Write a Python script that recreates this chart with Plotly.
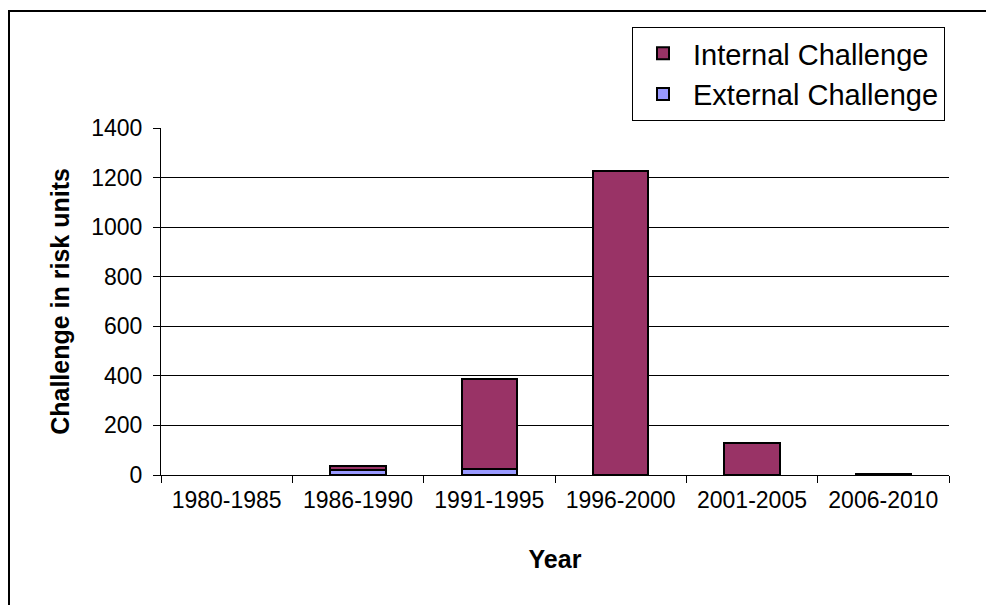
import plotly.graph_objects as go

categories = ["1980-1985", "1986-1990", "1991-1995", "1996-2000", "2001-2005", "2006-2010"]
external_challenge = [None, 20, 25, 0, 0, 0]
internal_challenge = [None, 16, 362, 1225, 128, 5]
y_ticks = [0, 200, 400, 600, 800, 1000, 1200, 1400]

FONT = "Arial, Liberation Sans, Helvetica, sans-serif"

fig = go.Figure()
fig.add_trace(go.Bar(
    x=categories, y=external_challenge, name="External Challenge",
    marker=dict(color="#9999FF", line=dict(color="black", width=2)),
))
fig.add_trace(go.Bar(
    x=categories, y=internal_challenge, name="Internal Challenge",
    marker=dict(color="#993366", line=dict(color="black", width=2)),
))

# page has an 8px body margin; work in page pixels and convert
OFF = 8
W, H = 994 - OFF, 605 - OFF
PL, PR, PT, PB = 161, 949, 128, 475  # plot area in page pixels
L, R, T, B = PL - OFF, W - (PR - OFF), PT - OFF, H - (PB - OFF)
pw, ph = PR - PL, PB - PT

def px(x):
    return (x - PL) / pw

def py(y):
    return (PB - y) / ph

fig.update_layout(
    width=W, height=H,
    barmode="stack", bargap=0.58,
    margin=dict(l=L, r=R, t=T, b=B, autoexpand=False),
    paper_bgcolor="white", plot_bgcolor="white",
    font=dict(family=FONT, size=23, color="black"),
    showlegend=True,
    legend=dict(
        traceorder="reversed",
        x=px(632), y=py(74), xanchor="left", yanchor="middle",
        bordercolor="black", borderwidth=1, bgcolor="white",
        font=dict(family=FONT, size=29, color="black"),
        tracegroupgap=0, itemwidth=50,
    ),
    xaxis=dict(
        type="category",
        showline=True, linecolor="black", linewidth=1,
        ticks="outside", tickson="boundaries", ticklen=7, tickcolor="black",
        tickfont=dict(family=FONT, size=23),
        ticklabelstandoff=4,
        title=dict(text="<b>Year</b>", font=dict(family=FONT, size=25), standoff=38),
        automargin=False,
    ),
    yaxis=dict(
        range=[0, 1400], tickvals=y_ticks,
        showline=True, linecolor="black", linewidth=1,
        showgrid=True, gridcolor="black", gridwidth=1,
        ticks="outside", ticklen=7, tickcolor="black",
        tickfont=dict(family=FONT, size=23),
        ticklabelstandoff=6,
        title=dict(text="<b>Challenge in risk units</b>", font=dict(family=FONT, size=25), standoff=14),
        automargin=False, zeroline=False,
    ),
    shapes=[dict(
        type="rect", xref="paper", yref="paper",
        x0=px(9), x1=px(1100), y0=py(700), y1=py(11),
        line=dict(color="black", width=2), fillcolor="rgba(0,0,0,0)", layer="below",
    )],
)

fig.write_html("out.html")
